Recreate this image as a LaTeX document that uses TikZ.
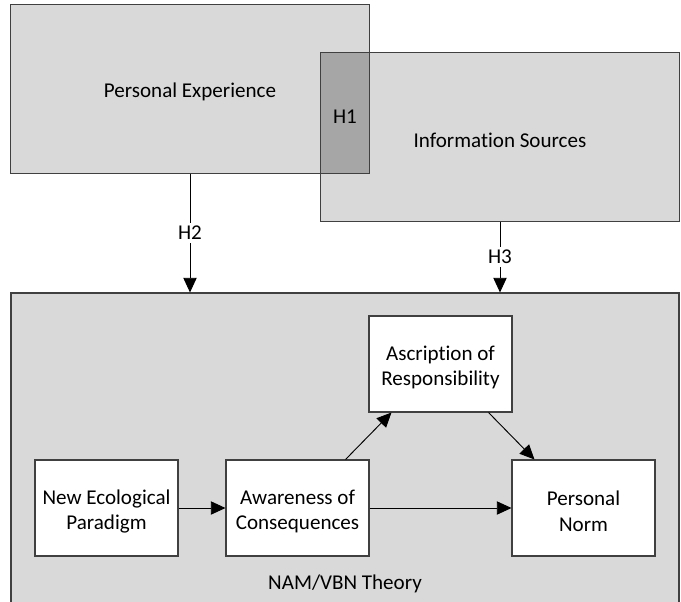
\documentclass[tikz,border=0pt]{standalone}
\usepackage{fontspec}
\setmainfont{Carlito}[Ligatures=NoCommon]
\usetikzlibrary{fit,calc,arrows.meta}
\definecolor{boxgray}{HTML}{D9D9D9}
\definecolor{overgray}{HTML}{A6A6A6}
\definecolor{edge}{HTML}{404040}
\begin{document}
\begin{tikzpicture}[x=0.75pt,y=-0.75pt,
  font=\fontsize{15.8}{19}\selectfont,
  graybox/.style={draw=edge,line width=0.8pt,fill=boxgray,inner sep=0pt,align=center},
  whitebox/.style={draw=edge,line width=0.8pt,fill=white,inner sep=0pt,align=center},
  txt/.style={align=center,yshift=-2.5pt},
  arr/.style={draw=black,line width=0.7pt,-{Triangle[length=11pt,width=10pt]}},
  hlabel/.style={fill=white,inner sep=2pt}]
\clip (0,0) rectangle (681,602);
\fill[white] (0,0) rectangle (681,602);
% top boxes (fills)
\node[graybox,draw=none,fit={(11,5) (369,173)}] (PE) {};
\node[graybox,draw=none,fit={(321,53) (679,221)}] (IS) {};
\fill[overgray] (IS.north west) rectangle (PE.south east);
\draw[edge,line width=0.8pt] (PE.north west) rectangle (PE.south east);
\draw[edge,line width=0.8pt] (IS.north west) rectangle (IS.south east);
\node[txt] (PEt) at (PE.center) {Personal Experience};
\node[txt] (ISt) at (IS.center) {Information Sources};
\node[txt] (H1) at ($(IS.north west)!0.5!(PE.south east)$) {H1};
% big box
\node[graybox,fit={(11,293) (679,625)}] (big) {};
% inner boxes
\node[whitebox,fit={(369,316) (512,412)}] (AR) {};
\node[txt] (ARt) at (AR.center) {Ascription of\\Responsibility};
\node[whitebox,fit={(35,460) (178,556)}] (NEP) {};
\node[txt] (NEPt) at (NEP.center) {New Ecological\\Paradigm};
\node[whitebox,fit={(226,460) (369,556)}] (AoC) {};
\node[txt] (AoCt) at (AoC.center) {Awareness of\\Consequences};
\node[whitebox,fit={(512,460) (655,556)}] (PN) {};
\node[txt] (PNt) at (PN.center) {Personal\\Norm};
\node (nam) at (345,584) {NAM/VBN Theory};
% arrows
\draw[arr] (PE.south) -- node[hlabel,pos=0.5] (H2) {H2} (PE.south |- big.north);
\draw[arr] (IS.south) -- node[hlabel,pos=0.5] (H3) {H3} (IS.south |- big.north);
\draw[arr] (NEP.east) -- (AoC.west);
\draw[arr] (AoC.east) -- (PN.west);
\draw[arr] ($(AoC.north east)+(-24,0)$) -- ($(AR.south west)+(23,0)$);
\draw[arr] ($(AR.south east)+(-24,0)$) -- ($(PN.north west)+(23,0)$);
\end{tikzpicture}
\end{document}
